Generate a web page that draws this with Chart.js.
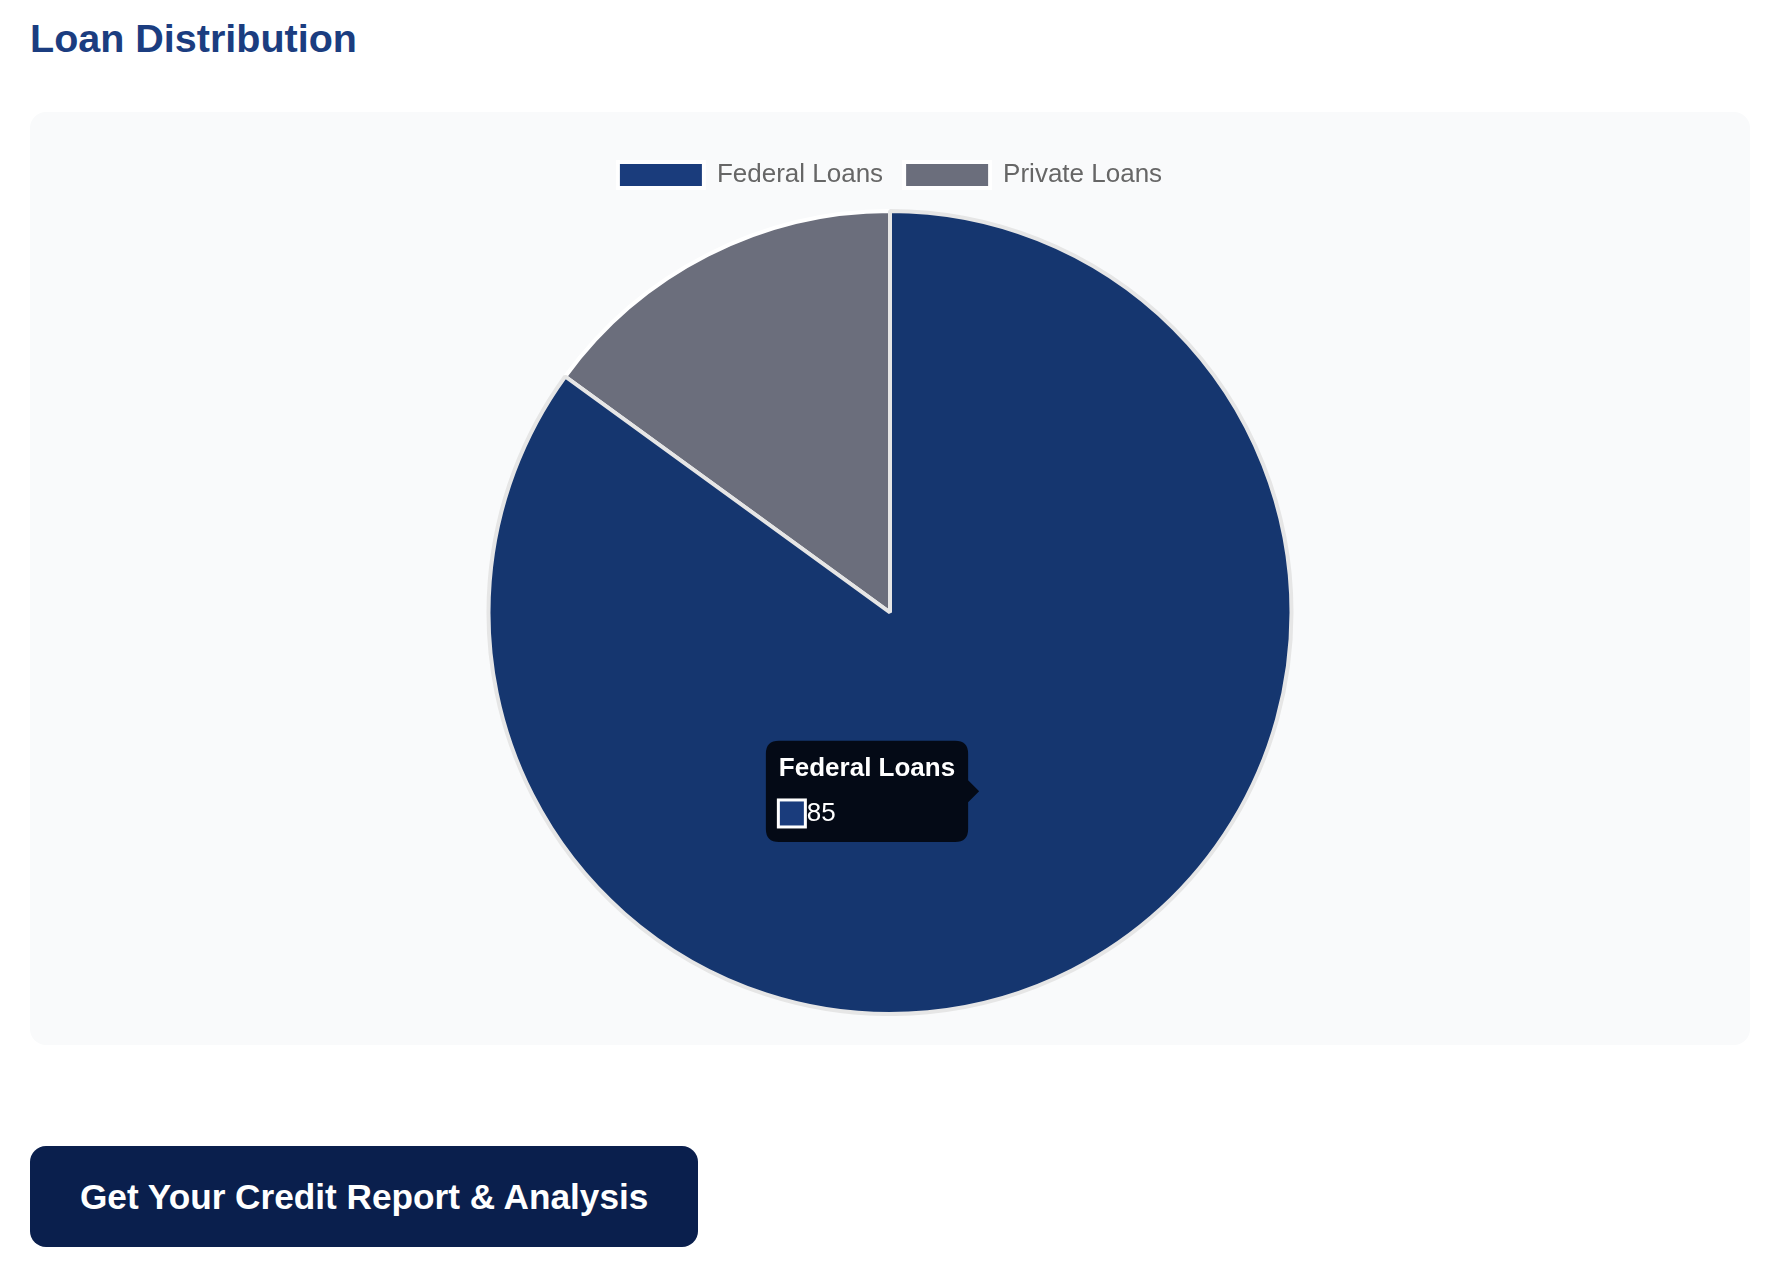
<!DOCTYPE html>
<html lang="en">
<head>
    <meta charset="UTF-8">
    <meta name="viewport" content="width=device-width, initial-scale=1.0">
    <title>Loan Distribution</title>
    <script src="https://cdn.jsdelivr.net/npm/chart.js"></script>
    <style>
        body {
            font-family: 'Liberation Sans', Arial, Helvetica, sans-serif;
            background: #ffffff;
            margin: 0;
            padding: 0 36px 0 30px;
        }
        h2 {
            margin: 0;
            padding-top: 16px;
            font-size: 39.5px;
            line-height: 45px;
            font-weight: bold;
            color: #1b3d80;
        }
        .chart-box {
            margin-top: 51px;
            width: 1720px;
            height: 933px;
            box-sizing: border-box;
            padding: 29px;
            background: #f9fafb;
            border-radius: 16px;
        }
        .chart-wrapper {
            position: relative;
            width: 100%;
            height: 875px;
        }
        .cta {
            display: inline-block;
            margin-top: 101px;
            height: 101px;
            line-height: 101px;
            padding: 0 50px;
            background: #0a1f4d;
            color: #ffffff;
            font-size: 35.2px;
            font-weight: bold;
            border-radius: 16px;
            text-decoration: none;
        }
    </style>
</head>
<body>
    <h2>Loan Distribution</h2>

    <div class="chart-box">
        <div class="chart-wrapper">
            <canvas id="loan-chart"></canvas>
        </div>
    </div>

    <a class="cta" href="#">Get Your Credit Report &amp; Analysis</a>

    <script>
        // Loan split (percent)
        const loanTypes = ['Federal Loans', 'Private Loans'];
        const loanShares = [85, 15];

        const sliceColors = ['#1a3c7c', '#6b6e7c'];
        const sliceHoverColors = ['#15366f', '#62656f'];

        Chart.defaults.font.family = "'Liberation Sans', Arial, Helvetica, sans-serif";
        Chart.defaults.font.size = 26;
        Chart.defaults.color = '#666666';

        // a bit more room under the legend
        const legendGap = {
            id: 'legendGap',
            beforeInit(chart) {
                const fit = chart.legend.fit;
                chart.legend.fit = function () {
                    fit.call(this);
                    this.height += 11;
                };
            }
        };

        const ctx = document.getElementById('loan-chart').getContext('2d');
        const loanChart = new Chart(ctx, {
            type: 'pie',
            data: {
                labels: loanTypes,
                datasets: [{
                    data: loanShares,
                    backgroundColor: sliceColors,
                    hoverBackgroundColor: sliceHoverColors,
                    borderColor: '#ffffff',
                    hoverBorderColor: '#e6e6e6',
                    borderWidth: 4,
                    hoverOffset: 0
                }]
            },
            options: {
                responsive: true,
                maintainAspectRatio: false,
                animation: false,
                plugins: {
                    legend: {
                        position: 'top',
                        labels: {
                            boxWidth: 86,
                            boxHeight: 26,
                            padding: 21,
                            font: { size: 26 }
                        }
                    },
                    tooltip: {
                        padding: 13,
                        caretSize: 11,
                        cornerRadius: 13,
                        titleMarginBottom: 13,
                        titleFont: { size: 26, weight: 'bold' },
                        bodyFont: { size: 26 },
                        boxWidth: 26,
                        boxHeight: 26
                    }
                }
            },
            plugins: [legendGap]
        });

        // show the hover state on the federal slice, like the screenshot
        const active = [{ datasetIndex: 0, index: 0 }];
        const pos = loanChart.getDatasetMeta(0).data[0].tooltipPosition();
        loanChart.setActiveElements(active);
        loanChart.tooltip.setActiveElements(active, pos);
        loanChart.update();
    </script>
</body>
</html>
